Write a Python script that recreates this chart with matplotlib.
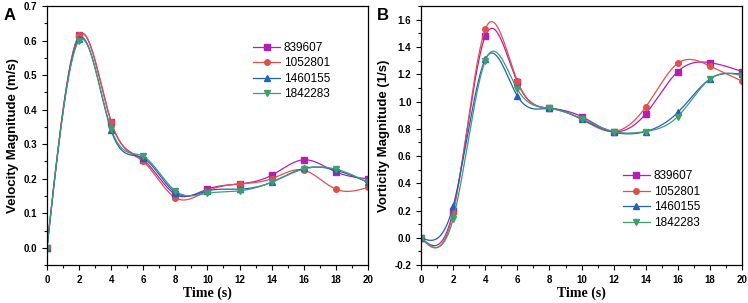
import numpy as np
import matplotlib
matplotlib.use("Agg")
import matplotlib.pyplot as plt
from matplotlib.ticker import MultipleLocator

time = [0, 2, 4, 6, 8, 10, 12, 14, 16, 18, 20]
labels = ["839607", "1052801", "1460155", "1842283"]

vel_839607 = [0, 0.615, 0.365, 0.255, 0.155, 0.170, 0.185, 0.210, 0.255, 0.220, 0.200]
vel_1052801 = [0, 0.615, 0.365, 0.250, 0.145, 0.165, 0.185, 0.200, 0.225, 0.170, 0.175]
vel_1460155 = [0, 0.605, 0.340, 0.260, 0.160, 0.165, 0.170, 0.190, 0.230, 0.225, 0.190]
vel_1842283 = [0, 0.600, 0.345, 0.265, 0.165, 0.158, 0.165, 0.190, 0.228, 0.228, 0.190]

vor_839607 = [0, 0.20, 1.48, 1.14, 0.95, 0.89, 0.78, 0.91, 1.22, 1.285, 1.22]
vor_1052801 = [0, 0.185, 1.53, 1.15, 0.95, 0.87, 0.78, 0.96, 1.28, 1.26, 1.15]
vor_1460155 = [0, 0.235, 1.31, 1.04, 0.95, 0.87, 0.775, 0.78, 0.92, 1.165, 1.20]
vor_1842283 = [0, 0.14, 1.30, 1.09, 0.95, 0.875, 0.78, 0.78, 0.89, 1.165, 1.19]

colors = ["#b41eb4", "#e0504a", "#2060c0", "#3e9e70"]
markers = ["s", "o", "^", "v"]


def spline(x, y, n=400):
    x = np.asarray(x, float); y = np.asarray(y, float)
    m = len(x); h = np.diff(x)
    A = np.zeros((m, m)); r = np.zeros(m)
    A[0, 0] = A[-1, -1] = 1
    for i in range(1, m - 1):
        A[i, i - 1] = h[i - 1]; A[i, i] = 2 * (h[i - 1] + h[i]); A[i, i + 1] = h[i]
        r[i] = 6 * ((y[i + 1] - y[i]) / h[i] - (y[i] - y[i - 1]) / h[i - 1])
    M = np.linalg.solve(A, r)
    xs = np.linspace(x[0], x[-1], n)
    idx = np.clip(np.searchsorted(x, xs) - 1, 0, m - 2)
    x0, x1 = x[idx], x[idx + 1]; hh = x1 - x0
    ys = (M[idx] * (x1 - xs) ** 3 / (6 * hh) + M[idx + 1] * (xs - x0) ** 3 / (6 * hh)
          + (y[idx] / hh - M[idx] * hh / 6) * (x1 - xs)
          + (y[idx + 1] / hh - M[idx + 1] * hh / 6) * (xs - x0))
    return xs, ys


fig = plt.figure(figsize=(7.48, 3.03), dpi=100)
axA = fig.add_axes([0.0628, 0.125, 0.429, 0.855])
axB = fig.add_axes([0.563, 0.125, 0.429, 0.855])

def draw(ax, series, ylim, ymaj, ymin, ylabel, legloc):
    for s, c, mk, lab in zip(series, colors, markers, labels):
        xs, ys = spline(time, s)
        ax.plot(xs, ys, color=c, lw=0.9)
        ax.plot(time, s, ls="none", marker=mk, color=c, ms=4)
        ax.plot([], [], color=c, lw=0.9, marker=mk, ms=4, label=lab)
    ax.set_xlim(0, 20)
    ax.set_ylim(*ylim)
    ax.xaxis.set_major_locator(MultipleLocator(2))
    ax.xaxis.set_minor_locator(MultipleLocator(1))
    ax.yaxis.set_major_locator(MultipleLocator(ymaj))
    ax.yaxis.set_minor_locator(MultipleLocator(ymin))
    ax.tick_params(which="both", direction="out", labelsize=7, width=0.8)
    ax.tick_params(which="major", length=3.5)
    ax.tick_params(which="minor", length=2)
    for t in ax.get_xticklabels() + ax.get_yticklabels():
        t.set_fontweight("bold"); t.set_family("Liberation Sans")
    for sp in ax.spines.values():
        sp.set_linewidth(0.9)
    ax.set_xlabel("Time (s)", fontsize=10, fontweight="bold", family="Liberation Serif", labelpad=1)
    ax.set_ylabel(ylabel, fontsize=9.5, fontweight="bold", family="Liberation Sans", labelpad=3)
    leg = ax.legend(loc="upper left", bbox_to_anchor=legloc, frameon=False,
                    prop={"family": "Liberation Sans", "size": 8.5},
                    handlelength=2.3, handletextpad=0.3, labelspacing=0.3, borderaxespad=0)
    return leg

draw(axA, [vel_839607, vel_1052801, vel_1460155, vel_1842283], (-0.05, 0.7), 0.1, 0.05,
     "Velocity Magnitude (m/s)", (0.628, 0.88))
axA.yaxis.set_major_formatter(matplotlib.ticker.FormatStrFormatter("%.1f"))
draw(axB, [vor_839607, vor_1052801, vor_1460155, vor_1842283], (-0.2, 1.7), 0.2, 0.1,
     "Vorticity Magnitude (1/s)", (0.614, 0.385))
axB.yaxis.set_major_formatter(matplotlib.ticker.FormatStrFormatter("%.1f"))

fig.text(0.005, 0.975, "A", fontsize=12, fontweight="bold", family="Liberation Sans", va="top")
fig.text(0.504, 0.975, "B", fontsize=12, fontweight="bold", family="Liberation Sans", va="top")

fig.savefig("out.png", dpi=100)
